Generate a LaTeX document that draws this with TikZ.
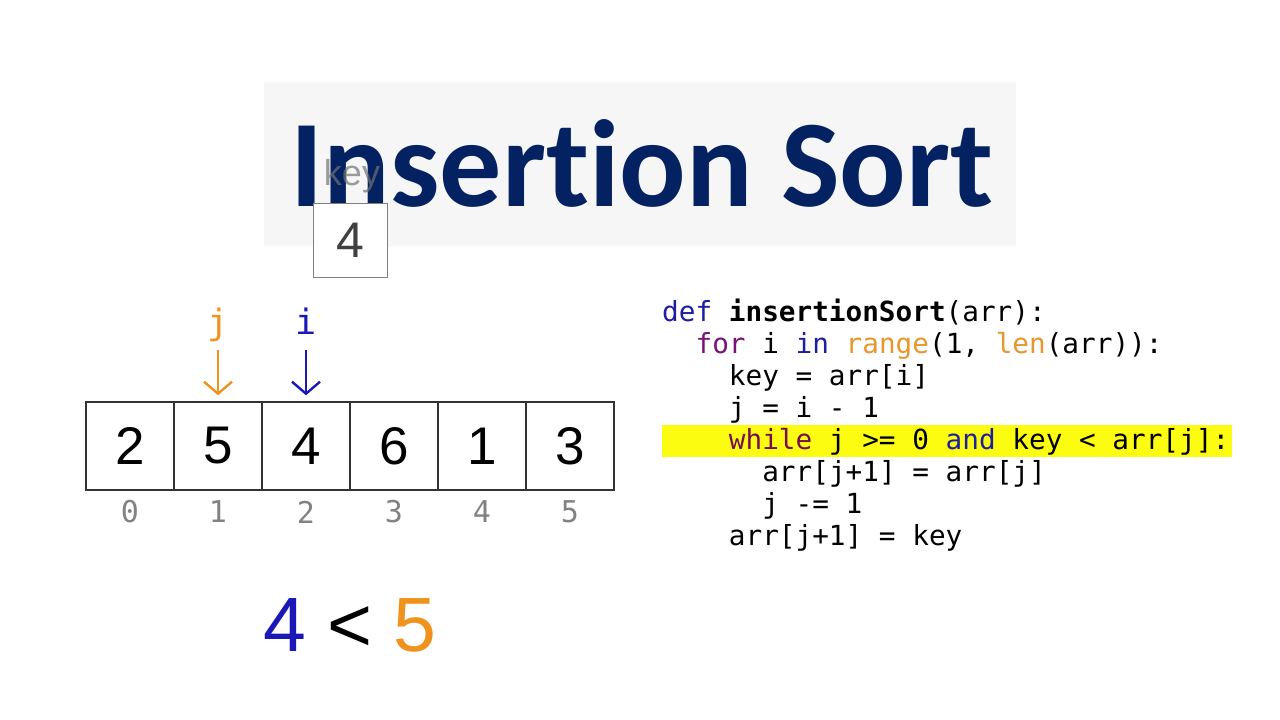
\documentclass[tikz,border=0pt]{standalone}
\usepackage{fontspec}
\setmainfont{Liberation Sans}
\setmonofont{DejaVu Sans Mono}
\newfontfamily\titlefont{Carlito}[Ligatures=NoCommon]
\usepackage{tikz}
\usetikzlibrary{arrows.meta}
\usepackage{xcolor}
\definecolor{titlenavy}{RGB}{4,34,98}
\definecolor{ptrorange}{RGB}{240,146,30}
\definecolor{ptrblue}{RGB}{28,24,184}
\definecolor{kwdef}{RGB}{30,30,160}
\definecolor{kwfor}{RGB}{122,18,120}
\definecolor{kwwhile}{RGB}{118,14,84}
\definecolor{kwcall}{RGB}{232,150,46}
\definecolor{hlyellow}{RGB}{252,252,16}
\definecolor{idxgrey}{RGB}{130,130,130}
\definecolor{panelgrey}{RGB}{246,246,246}

\tikzset{
	cell/.style={draw=black!80,line width=1.4pt,minimum size=88pt,inner sep=0pt,
		font=\fontsize{53}{56}\selectfont},
	idx/.style={text=idxgrey,inner sep=0pt,font=\ttfamily\fontsize{30}{32}\selectfont},
	ptr/.style={inner sep=0pt,text height=24pt,text depth=7pt,
		font=\ttfamily\fontsize{35}{37}\selectfont},
	ptrarrow/.style={line width=2.4pt,-{Straight Barb[length=12pt,width=28pt]},
		shorten <=8pt,shorten >=6pt},
	codeline/.style={anchor=base west,inner sep=0pt,
		font=\ttfamily\fontsize{27.7}{32}\selectfont}
}

\begin{document}
\begin{tikzpicture}[x=1pt,y=-1pt]
	\useasboundingbox (0,0) rectangle (1280,720);
	\fill[white] (0,0) rectangle (1280,720);
	% title panel
	\fill[panelgrey] (264,82) rectangle (1016,246);
	\node[anchor=base,inner sep=0pt,text=titlenavy,
		font=\titlefont\bfseries\fontsize{124}{128}\selectfont]
		(title) at (642,206) {Insertion Sort};
	% key
	\node[inner sep=0pt,text=black!55,opacity=0.7,font=\fontsize{36}{38}\selectfont]
		(keylab) at (352,176) {key};
	\node[draw=black!50,line width=0.8pt,fill=white,minimum size=74pt,inner sep=0pt,
		text=black!75,font=\fontsize{50}{52}\selectfont]
		(keybox) at (350,240) {4};
	% array
	\foreach \Nombre/\Val in {0/2, 1/5, 2/4, 3/6, 4/1, 5/3} {
		\node[cell] (cell\Nombre) at ({130+88*\Nombre},446) {\Val};
		\node[idx] (idx\Nombre) at ({130+88*\Nombre},512) {\Nombre};
	}
	% pointers
	\node[ptr,text=ptrorange] (jlab) at (218,326) {j};
	\node[ptr,text=ptrblue] (ilab) at (306,326) {i};
	\draw[ptrarrow,ptrorange] (jlab) -- (cell1);
	\draw[ptrarrow,ptrblue] (ilab) -- (cell2);
	% comparison
	\node[inner sep=0pt,font=\fontsize{77}{80}\selectfont] (cmp) at (350,625)
		{\textcolor{ptrblue}{4} < \textcolor{ptrorange}{5}};
	% code
	\fill[hlyellow] (662,425) rectangle (1232,457);
	\node[codeline] (code1) at (662,321)
		{\textcolor{kwdef}{def} \textbf{insertionSort}(arr):};
	\node[codeline] (code2) at (695.4,353)
		{\textcolor{kwfor}{for} i \textcolor{kwdef}{in} \textcolor{kwcall}{range}(1, \textcolor{kwcall}{len}(arr)):};
	\node[codeline] (code3) at (728.7,385) {key = arr[i]};
	\node[codeline] (code4) at (728.7,417) {j = i - 1};
	\node[codeline] (code5) at (728.7,449)
		{\textcolor{kwwhile}{while} j >= 0 \textcolor{kwdef}{and} key < arr[j]:};
	\node[codeline] (code6) at (762.1,481) {arr[j+1] = arr[j]};
	\node[codeline] (code7) at (762.1,513) {j -= 1};
	\node[codeline] (code8) at (728.7,545) {arr[j+1] = key};
\end{tikzpicture}
\end{document}
